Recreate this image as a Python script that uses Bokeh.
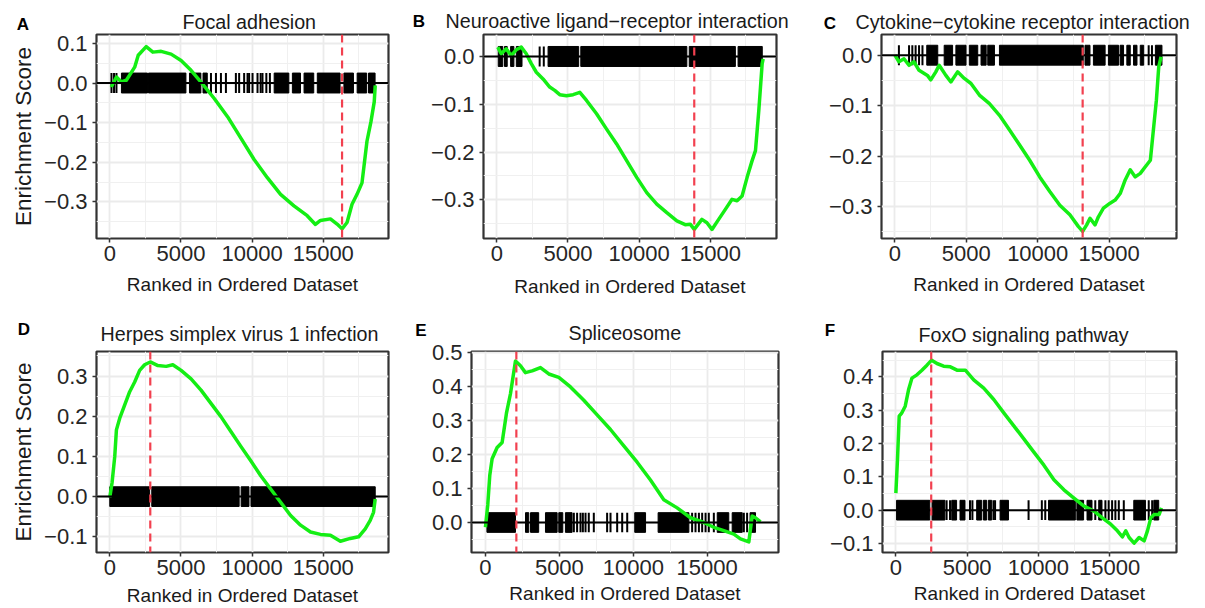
from bokeh.plotting import figure
from bokeh.models import FixedTicker, CustomJSTickFormatter, Span, Range1d, Div
from bokeh.layouts import row, column
from bokeh.embed import file_html
from bokeh.resources import INLINE

FONT = "Liberation Sans"
GREEN = "#14EE14"
RED = "#F2404F"

# ---------------- data ----------------
titles = ["Focal adhesion", "Neuroactive ligand\u2212receptor interaction",
          "Cytokine\u2212cytokine receptor interaction", "Herpes simplex virus 1 infection",
          "Spliceosome", "FoxO signaling pathway"]
letters = ["A", "B", "C", "D", "E", "F"]
n_genes = [18650, 18714, 18779, 18650, 18880, 18750]
x_ticks = [0, 5000, 10000, 15000]

# Panel A - Focal adhesion
a_rank = [100, 470, 800, 1165, 1750, 2000, 2560, 3030, 3610, 4310, 5010, 5710, 6410, 7340, 8275,
          9210, 10140, 11070, 12000, 12940, 13870, 14450, 14800, 15500, 15970, 16320, 16670,
          17020, 17370, 17720, 18070, 18350, 18580, 18650]
a_es = [-0.010, 0.015, 0.003, 0.007, 0.040, 0.070, 0.092, 0.078, 0.080, 0.073, 0.057, 0.032,
        0.0025, -0.039, -0.085, -0.139, -0.193, -0.239, -0.281, -0.310, -0.335, -0.357, -0.347,
        -0.343, -0.356, -0.368, -0.352, -0.306, -0.281, -0.252, -0.147, -0.0975, -0.0475, -0.006]
a_block_lo = [820, 2720, 5600, 6550, 11550, 12830, 13650, 14580, 16450, 17380, 18180]
a_block_hi = [2650, 5350, 6400, 6850, 12580, 13400, 14330, 16180, 17120, 18050, 18640]
a_hits = [120, 300, 470, 7110, 7460, 7810, 8160, 8860, 9090, 9440, 9680, 9790, 10030, 10380,
          10600, 10730, 11000, 11250]
a_peak = 16320

# Panel B - Neuroactive ligand-receptor interaction
b_rank = [70, 308, 661, 1012, 1364, 1717, 2070, 2423, 2776, 3246, 3716, 4069, 4421, 4891, 5361,
          5832, 6302, 7007, 7712, 8417, 9122, 9827, 10532, 11237, 11942, 12648, 13235, 13588,
          13870, 14410, 14763, 15116, 15586, 16056, 16526, 16880, 17232, 17585, 17937, 18172,
          18407, 18525, 18642, 18713]
b_es = [0.0196, 0.0056, 0.016, 0.002, 0.014, 0.0196, 0.0056, -0.015, -0.033, -0.047, -0.064,
        -0.071, -0.080, -0.082, -0.080, -0.075, -0.092, -0.120, -0.152, -0.183, -0.218, -0.253,
        -0.285, -0.309, -0.327, -0.344, -0.352, -0.351, -0.362, -0.341, -0.348, -0.362, -0.341,
        -0.320, -0.299, -0.302, -0.292, -0.253, -0.218, -0.197, -0.113, -0.064, -0.015, -0.005]
b_block_lo = [100, 540, 970, 1370, 3600, 5900, 13520, 16950]
b_block_hi = [420, 730, 1200, 1770, 5750, 13350, 16760, 18650]
b_hits = [3010, 3300]
b_peak = 13871

# Panel C - Cytokine-cytokine receptor interaction
c_rank = [0, 282, 634, 986, 1338, 1690, 2277, 2512, 2864, 3099, 3568, 3920, 4389, 4859, 5328,
          5915, 6620, 7324, 8028, 8732, 9437, 10141, 10845, 11549, 12253, 12840, 13146, 13428,
          13662, 14014, 14249, 14601, 15070, 15422, 15774, 16126, 16478, 16830, 17182, 17535,
          17887, 18121, 18309, 18474, 18638]
c_es = [0.0, -0.013, -0.007, -0.020, -0.013, -0.030, -0.040, -0.049, -0.033, -0.020, -0.040,
        -0.053, -0.033, -0.046, -0.056, -0.079, -0.096, -0.119, -0.148, -0.178, -0.208, -0.241,
        -0.270, -0.297, -0.316, -0.339, -0.349, -0.336, -0.323, -0.336, -0.320, -0.303, -0.293,
        -0.287, -0.274, -0.247, -0.227, -0.241, -0.234, -0.221, -0.208, -0.142, -0.089, -0.023,
        -0.003]
c_block_lo = [2230, 3450, 4270, 5210, 6030, 6500, 7320, 13310, 13900, 14950, 15770, 16240, 16710,
              17180, 18240]
c_block_hi = [3000, 4040, 4980, 5800, 6390, 6970, 13190, 13660, 14720, 15660, 16010, 16480, 16950,
              17420, 18700]
c_hits = [280, 990, 1220, 1450, 1690, 1930, 17770, 18000]
c_peak = 13146

# Panel D - Herpes simplex virus 1 infection
d_rank = [0, 163, 350, 467, 700, 1050, 1399, 1749, 2099, 2448, 2844, 3380, 3963, 4429, 5012,
          5711, 6411, 7110, 7809, 8509, 9208, 9907, 10607, 11306, 12005, 12705, 13404, 14103,
          14802, 15502, 16201, 16900, 17483, 17949, 18298, 18531, 18648]
d_es = [-0.002, 0.035, 0.100, 0.166, 0.195, 0.228, 0.261, 0.285, 0.314, 0.328, 0.335, 0.326,
        0.324, 0.328, 0.314, 0.293, 0.265, 0.232, 0.199, 0.162, 0.125, 0.089, 0.052, 0.019,
        -0.014, -0.047, -0.071, -0.088, -0.094, -0.096, -0.111, -0.104, -0.100, -0.080, -0.059,
        -0.039, -0.006]
d_block_lo = [0, 2950, 9230, 9920]
d_block_hi = [2800, 9090, 9780, 18650]
d_hits = []
d_peak = 2846

# Panel E - Spliceosome
e_rank = [0, 158, 293, 451, 790, 1128, 1421, 1692, 2030, 2368, 2706, 3157, 3721, 4285, 4962,
          5751, 6653, 7555, 8457, 9359, 10261, 11163, 12065, 12967, 13869, 14771, 15448, 16124,
          16801, 17252, 17816, 18042, 18268, 18607]
e_es = [-0.014, 0.053, 0.139, 0.187, 0.220, 0.235, 0.321, 0.378, 0.474, 0.460, 0.440, 0.445,
        0.455, 0.436, 0.426, 0.398, 0.359, 0.316, 0.273, 0.225, 0.177, 0.125, 0.067, 0.043,
        0.014, 0.000, -0.014, -0.024, -0.034, -0.048, -0.057, 0.019, 0.014, 0.002]
e_block_lo = [100, 2710, 3050, 4060, 4960, 5410, 10100, 11680, 15680, 16690, 17900]
e_block_hi = [2030, 2930, 3600, 4850, 5230, 5860, 10830, 13760, 16460, 17370, 18270]
e_hits = [5980, 6200, 6430, 6590, 6770, 6990, 7330, 8230, 8460, 8910, 9250, 9590, 13980, 14210,
          14440, 14660, 14890, 15110, 15450, 17480, 17700]
e_peak = 2090

# Panel F - FoxO signaling pathway
f_rank = [0, 117, 234, 422, 656, 890, 1125, 1476, 1828, 2180, 2510, 2883, 3352, 3821, 4289,
          4875, 5461, 6165, 6868, 7571, 8274, 8978, 9681, 10384, 11087, 11790, 12493, 13197,
          13900, 14486, 15072, 15541, 15893, 16127, 16362, 16713, 17065, 17416, 17650, 17885,
          18119, 18471, 18635]
f_es = [0.051, 0.155, 0.282, 0.292, 0.312, 0.361, 0.396, 0.406, 0.420, 0.435, 0.450, 0.440,
        0.432, 0.430, 0.420, 0.420, 0.391, 0.366, 0.332, 0.292, 0.253, 0.214, 0.174, 0.135,
        0.091, 0.061, 0.036, 0.012, -0.003, -0.023, -0.042, -0.062, -0.080, -0.062, -0.082,
        -0.099, -0.082, -0.092, -0.062, -0.023, -0.013, -0.013, 0.007]
f_block_lo = [50, 2540, 3920, 4500, 5670, 6140, 6490, 7310, 10710, 12700, 13410, 14230, 16690,
              18095]
f_block_hi = [2380, 3440, 4260, 4850, 6020, 6370, 6720, 7900, 12590, 13170, 13760, 14460, 17510,
              18440]
f_hits = [3560, 3800, 5200, 5370, 6850, 6960, 9310, 10240, 10480, 13990, 14700, 14930, 15170,
          15400, 15640, 15990, 17740, 17980]
f_peak = 2480

y_ticks = [
    [-0.3, -0.2, -0.1, 0.0, 0.1],
    [-0.3, -0.2, -0.1, 0.0],
    [-0.3, -0.2, -0.1, 0.0],
    [-0.1, 0.0, 0.1, 0.2, 0.3],
    [0.0, 0.1, 0.2, 0.3, 0.4, 0.5],
    [-0.1, 0.0, 0.1, 0.2, 0.3, 0.4],
]
y_limits = [(-0.3925, 0.1225), (-0.381, 0.046), (-0.363, 0.041),
            (-0.139, 0.361), (-0.088, 0.502), (-0.127, 0.476)]

curves = [(a_rank, a_es), (b_rank, b_es), (c_rank, c_es), (d_rank, d_es), (e_rank, e_es), (f_rank, f_es)]
blocks = [(a_block_lo, a_block_hi), (b_block_lo, b_block_hi), (c_block_lo, c_block_hi),
          (d_block_lo, d_block_hi), (e_block_lo, e_block_hi), (f_block_lo, f_block_hi)]
hits = [a_hits, b_hits, c_hits, d_hits, e_hits, f_hits]
peaks = [a_peak, b_peak, c_peak, d_peak, e_peak, f_peak]

# ---------------- layout (page pixels) ----------------
cells = [
    dict(ox=0, oy=0, w=400, h=300, fl=96, fr=388, ft=33, fb=238, t_left=182, t_stand=4, xl_stand=10, letter_xy=(23, 24), ylab=True),
    dict(ox=400, oy=0, w=400, h=300, fl=483, fr=776, ft=34, fb=238, t_left=445, t_stand=6, xl_stand=12, letter_xy=(419, 21), ylab=False),
    dict(ox=800, oy=0, w=405, h=300, fl=881, fr=1176, ft=34, fb=239, t_left=855, t_stand=4, xl_stand=10, letter_xy=(830, 23), ylab=False),
    dict(ox=0, oy=300, w=400, h=308, fl=96, fr=388, ft=348, fb=552, t_left=100, t_stand=14, xl_stand=7, letter_xy=(24, 329), ylab=True),
    dict(ox=400, oy=300, w=400, h=308, fl=471, fr=778, ft=348, fb=552, t_left=568, t_stand=16, xl_stand=5, letter_xy=(421, 330), ylab=False),
    dict(ox=800, oy=300, w=405, h=308, fl=882, fr=1176, ft=351, fb=555, t_left=918, t_stand=11, xl_stand=5, letter_xy=(830, 330), ylab=False),
]
LETTER_DY = -12  # compensation for the Div's own content offset

tick_fmt = CustomJSTickFormatter(code="return tick.toFixed(1).replace('-', '\u2212');")


def make_panel(i):
    c = cells[i]
    n = n_genes[i]
    x0, x1 = -0.05 * n, 1.05 * n
    y0, y1 = y_limits[i]
    p = figure(width=c["w"], height=c["h"], x_range=Range1d(x0, x1), y_range=Range1d(y0, y1),
               output_backend="svg", toolbar_location=None,
               min_border_left=c["fl"] - c["ox"], min_border_right=c["ox"] + c["w"] - c["fr"],
               min_border_top=c["ft"] - c["oy"], min_border_bottom=c["oy"] + c["h"] - c["fb"])
    p.background_fill_color = "white"
    p.border_fill_color = "white"
    p.outline_line_color = "#333333"
    p.outline_line_width = 2.2

    p.title.text = titles[i]
    p.title.align = "left"
    p.title.offset = c["t_left"] - c["fl"]
    p.title.standoff = c["t_stand"]
    p.title.text_font = FONT
    p.title.text_font_size = "19.7px"
    p.title.text_font_style = "normal"
    p.title.text_color = "#1a1a1a"

    xminor = [t + 2500 for t in x_ticks] + [x_ticks[0] - 2500]
    p.xaxis.ticker = FixedTicker(ticks=x_ticks, minor_ticks=xminor)
    yt = y_ticks[i]
    yminor = [round(t + 0.05, 3) for t in yt] + [round(yt[0] - 0.05, 3)]
    p.yaxis.ticker = FixedTicker(ticks=yt, minor_ticks=yminor)
    p.yaxis.formatter = tick_fmt

    for g in (p.xgrid, p.ygrid):
        g.grid_line_color = "#EBEBEB"
        g.grid_line_width = 1.8
        g.minor_grid_line_color = "#F0F0F0"
        g.minor_grid_line_width = 1.0

    for ax in (p.xaxis, p.yaxis):
        ax.axis_line_color = None
        ax.major_tick_line_color = "#333333"
        ax.major_tick_line_width = 1.5
        ax.major_tick_in = 0
        ax.major_tick_out = 4
        ax.minor_tick_line_color = None
        ax.major_label_text_font = FONT
        ax.major_label_text_font_size = "22px"
        ax.major_label_text_color = "#262626"
        ax.major_label_standoff = 3
        ax.axis_label_text_font = FONT
        ax.axis_label_text_font_style = "normal"
        ax.axis_label_text_color = "#1a1a1a"
    p.yaxis.major_label_standoff = 5

    p.xaxis.axis_label = "Ranked in Ordered Dataset"
    p.xaxis.axis_label_text_font_size = "19px"
    p.xaxis.axis_label_standoff = c["xl_stand"]
    if c["ylab"]:
        p.yaxis.axis_label = "Enrichment Score"
        p.yaxis.axis_label_text_font_size = "22.5px"
        p.yaxis.axis_label_standoff = 5

    fh = c["fb"] - c["ft"]
    rh = 10.0 * (y1 - y0) / fh
    lo, hi = blocks[i]
    p.quad(left=lo, right=hi, bottom=-rh, top=rh, fill_color="black", line_color="black", line_width=1)
    hx = hits[i]
    if hx:
        p.segment(x0=hx, y0=[-rh] * len(hx), x1=hx, y1=[rh] * len(hx), line_color="black", line_width=2)

    p.add_layout(Span(location=0, dimension="width", line_color="black", line_width=2))

    rx, es = curves[i]
    p.line(rx, es, line_color=GREEN, line_width=3.5, line_join="round")

    p.add_layout(Span(location=peaks[i], dimension="height", line_color=RED, line_width=2.2,
                      line_dash="8 5"))
    return p


def letter_overlay(idx, oy):
    spans = []
    for i in idx:
        lx, ly = cells[i]["letter_xy"]
        spans.append(
            '<span style="position:absolute;left:%dpx;top:%dpx;transform:translate(-50%%,-50%%);'
            'font-family:\'Liberation Sans\';font-weight:bold;font-size:17px;line-height:1;'
            'color:black;z-index:20;">%s</span>' % (lx, ly - oy + LETTER_DY, letters[i]))
    html = '<div style="position:relative;width:1205px;height:0px;overflow:visible;z-index:20;">%s</div>' % "".join(spans)
    return Div(text=html, width=1205, height=0, margin=0,
               styles={"overflow": "visible", "z-index": "20", "position": "relative"})


panels = [make_panel(i) for i in range(6)]
layout = column(letter_overlay([0, 1, 2], 0), row(*panels[:3]),
                letter_overlay([3, 4, 5], 300), row(*panels[3:]))

open("out.html", "w").write(file_html(layout, INLINE))
